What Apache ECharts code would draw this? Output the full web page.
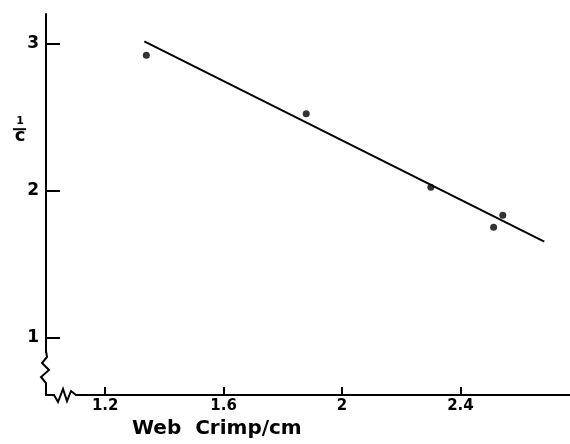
<!DOCTYPE html>
<html>
<head>
<meta charset="utf-8">
<script src="https://cdn.jsdelivr.net/npm/echarts@6/dist/echarts.min.js"></script>
<style>html,body{margin:0;padding:0;background:#fff}#c{width:570px;height:444px}</style>
</head>
<body>
<div id="c"></div>
<script>
// Data
const crimpValues = [1.339, 1.879, 2.300, 2.512, 2.543];
const invCValues = [2.92, 2.522, 2.022, 1.75, 1.832];
const fitLineX = [1.332, 2.683];
const fitLineY = [3.014, 1.653];
const xTickValues = [1.2, 1.6, 2, 2.4];
const xTickLabels = ['1.2', '1.6', '2', '2.4'];
const yTickValues = [1, 2, 3];
const yTickLabels = ['1', '2', '3'];
const xAxisTitle = 'Web  Crimp/cm';

const X_MIN = 1.0, X_MAX = 2.77, Y_MIN = 0.61, Y_MAX = 3.2;
const FONT = 'DejaVu Sans';

const chart = echarts.init(document.getElementById('c'), null, {renderer: 'canvas'});
const points = crimpValues.map((x, i) => [x, invCValues[i]]);
const fit = fitLineX.map((x, i) => [x, fitLineY[i]]);

chart.setOption({
  animation: false,
  backgroundColor: '#fff',
  grid: {left: 46, right: 0, top: 14, bottom: 49},
  xAxis: {
    type: 'value', min: X_MIN, max: X_MAX,
    splitLine: {show: false},
    axisLine: {show: true, onZero: false, lineStyle: {color: '#000', width: 2}},
    axisTick: {show: true, inside: true, length: 8, lineStyle: {color: '#000', width: 2}, customValues: xTickValues},
    axisLabel: {
      show: true, margin: 4, color: '#000', fontFamily: FONT, fontWeight: 'bold', fontSize: 15,
      customValues: xTickValues,
      formatter: v => { const i = xTickValues.findIndex(t => Math.abs(t - v) < 1e-9); return i >= 0 ? xTickLabels[i] : ''; }
    },
    name: xAxisTitle, nameLocation: 'start', nameGap: 0,
    nameTextStyle: {color: '#000', fontFamily: FONT, fontWeight: 'bold', fontSize: 20, align: 'left', verticalAlign: 'top', padding: [24, 0, 0, 86]}
  },
  yAxis: {
    type: 'value', min: Y_MIN, max: Y_MAX,
    splitLine: {show: false},
    axisLine: {show: true, onZero: false, lineStyle: {color: '#000', width: 2}},
    axisTick: {show: true, inside: true, length: 14, lineStyle: {color: '#000', width: 2}, customValues: yTickValues},
    axisLabel: {
      show: true, margin: 7, color: '#000', fontFamily: FONT, fontWeight: 'bold', fontSize: 17,
      customValues: yTickValues,
      formatter: v => { const i = yTickValues.findIndex(t => Math.abs(t - v) < 1e-9); return i >= 0 ? yTickLabels[i] : ''; }
    }
  },
  series: [
    {type: 'line', data: fit, symbol: 'none', lineStyle: {color: '#000', width: 2}, z: 2},
    {type: 'scatter', data: points, symbol: 'circle', symbolSize: 7, itemStyle: {color: '#000'}, z: 3}
  ]
});

// Decorations: axis breaks and the 1/c fraction label
const corner = chart.convertToPixel({gridIndex: 0}, [X_MIN, Y_MIN]);
const cx = corner[0], cy = corner[1];
const labelPos = chart.convertToPixel({gridIndex: 0}, [X_MIN, 2.41]);
chart.setOption({
  graphic: [
    {type: 'rect', shape: {x: cx - 8, y: cy - 42, width: 12, height: 40}, style: {fill: '#fff'}, z: 50},
    {type: 'rect', shape: {x: cx + 4, y: cy - 8, width: 30, height: 14}, style: {fill: '#fff'}, z: 50},
    {type: 'polyline', shape: {points: [
      [cx, cy - 44], [cx + 1, cy - 38], [cx - 4, cy - 32], [cx + 3, cy - 25], [cx - 5, cy - 18], [cx, cy - 12], [cx, cy],
      [cx + 8, cy], [cx + 12, cy + 7], [cx + 17, cy - 6], [cx + 21, cy + 6], [cx + 25, cy - 4], [cx + 30, cy], [cx + 36, cy]
    ]}, style: {stroke: '#000', lineWidth: 2, fill: null}, z: 51},
    {type: 'text', x: labelPos[0] - 26, y: labelPos[1] - 1, style: {
      text: '{n|1}\n{c|c}', textAlign: 'center', textVerticalAlign: 'middle',
      rich: {
        n: {fontFamily: FONT, fontWeight: 'bold', fontSize: 11, lineHeight: 14, color: '#000', width: 12, align: 'center'},
        c: {fontFamily: FONT, fontWeight: 'bold', fontSize: 18, lineHeight: 16, color: '#000', width: 12, align: 'center'}
      }
    }, z: 51},
    {type: 'line', shape: {x1: labelPos[0] - 33, y1: labelPos[1] - 1, x2: labelPos[0] - 20, y2: labelPos[1] - 1}, style: {stroke: '#000', lineWidth: 2}, z: 52}
  ]
});
</script>
</body>
</html>
